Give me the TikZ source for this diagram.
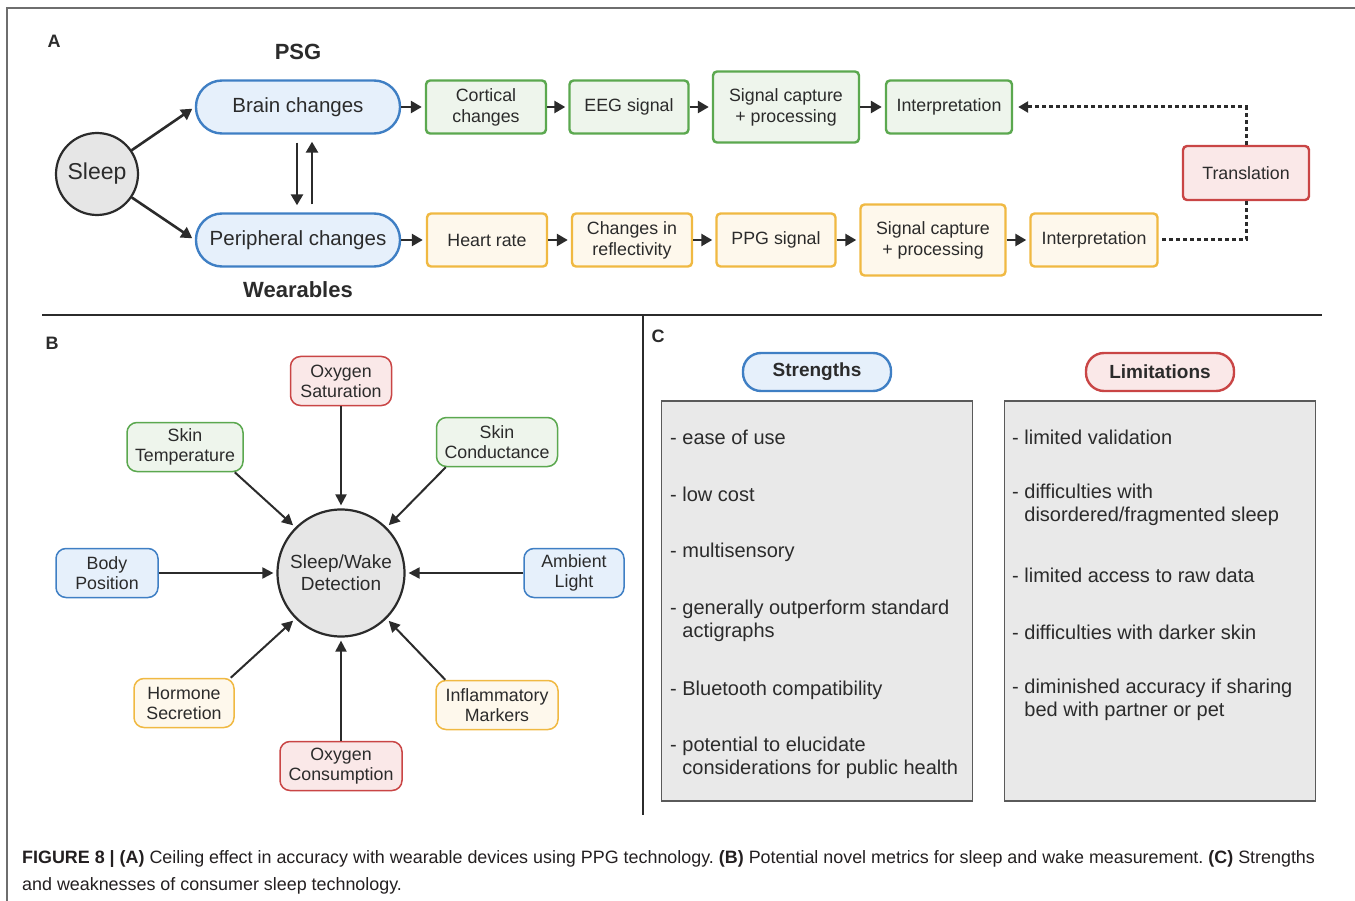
\documentclass[tikz,border=0pt]{standalone}
\usepackage{fontspec}
\setmainfont{Liberation Sans}
\usetikzlibrary{arrows.meta}
\frenchspacing

\definecolor{ink}{HTML}{2B2B2B}
\definecolor{captink}{HTML}{231F20}
\definecolor{framec}{HTML}{6E6E6E}
\definecolor{bluedraw}{HTML}{3F7FC4}
\definecolor{bluefill}{HTML}{E6F0FB}
\definecolor{grndraw}{HTML}{5BA84F}
\definecolor{grnfill}{HTML}{EEF5EC}
\definecolor{yeldraw}{HTML}{F0B942}
\definecolor{yelfill}{HTML}{FEF8EC}
\definecolor{reddraw}{HTML}{C94545}
\definecolor{redfill}{HTML}{FAE8E8}
\definecolor{greyfill}{HTML}{E6E6E6}
\definecolor{boxfill}{HTML}{E9E9E9}
\definecolor{boxdraw}{HTML}{5A5A5A}

\newcommand\fsz[2]{\fontsize{#1}{#2}\selectfont}

\begin{document}
\begin{tikzpicture}[x=1pt,y=-1pt,
  every node/.style={text=ink},
  lbl/.style={font=\fsz{18}{20}\bfseries},
  head/.style={font=\fsz{22}{26}\bfseries},
  pill/.style={draw=bluedraw,fill=bluefill,line width=2.4pt,rounded corners=26pt,
    minimum width=204pt,minimum height=53pt,font=\fsz{20.5}{24}},
  boxA/.style={rounded corners=4pt,line width=2.4pt,minimum height=53pt,align=center,
    inner sep=2pt,font=\fsz{17.8}{21}},
  grn/.style={boxA,draw=grndraw,fill=grnfill},
  yel/.style={boxA,draw=yeldraw,fill=yelfill},
  metric/.style={rounded corners=10pt,line width=1.5pt,minimum height=49pt,align=center,
    inner sep=1pt,font=\fsz{17.8}{20}},
  arr/.style={-{Triangle[length=11pt,width=12pt]},line width=2.6pt,draw=ink,shorten >=3pt},
  barr/.style={-{Triangle[length=11pt,width=11pt]},line width=2pt,draw=ink,shorten >=3pt},
  dotline/.style={draw=ink,line width=3pt,dash pattern=on 4pt off 3pt},
  sep/.style={draw=ink,line width=1.6pt},
  cpill/.style={line width=2.4pt,rounded corners=18pt,minimum width=148pt,minimum height=38pt,
    font=\fsz{19}{22}\bfseries},
  listbox/.style={draw=boxdraw,fill=boxfill,line width=1.6pt,minimum width=311pt,minimum height=400pt},
  item/.style={anchor=west,align=left,inner sep=0pt,font=\fsz{20}{23}},
  capt/.style={anchor=base west,inner sep=0pt,text=captink,font=\fsz{17.9}{20}}]
  \useasboundingbox (0,0) rectangle (1355,901);
  \draw[draw=framec,line width=1.2pt] (7,901) -- (7,8) -- (1355,8);

  \node[lbl] (labA) at (54,41) {A};
  \node[head] (psg) at (298,52) {PSG};
  \node[head] (wear) at (298,290) {Wearables};
  \node[circle,draw=ink,fill=greyfill,line width=2.2pt,minimum size=82pt,inner sep=0pt,
    font=\fsz{23}{26}] (sleep) at (97,174) {Sleep};
  \node[pill] (brain) at (298,107) {Brain changes};
  \node[pill] (periph) at (298,240) {Peripheral changes};
  \node[grn,minimum width=120pt] (cortical) at (486,107) {Cortical\\changes};
  \node[grn,minimum width=119pt] (eeg) at (629,107) {EEG signal};
  \node[grn,minimum width=146pt,minimum height=71pt] (capA) at (786,107) {Signal capture\\+ processing};
  \node[grn,minimum width=126pt] (interpA) at (949,107) {Interpretation};
  \node[yel,minimum width=120pt] (heart) at (487,240) {Heart rate};
  \node[yel,minimum width=120pt] (reflect) at (632,240) {Changes in\\reflectivity};
  \node[yel,minimum width=119pt] (ppg) at (776,240) {PPG signal};
  \node[yel,minimum width=145pt,minimum height=71pt] (capW) at (933,240) {Signal capture\\+ processing};
  \node[yel,minimum width=127pt] (interpW) at (1094,240) {Interpretation};
  \node[boxA,draw=reddraw,fill=redfill,minimum width=126pt,minimum height=54pt] (transl) at (1246,173) {Translation};

  \draw[arr] (sleep) -- (brain.west);
  \draw[arr] (sleep) -- (periph.west);
  \draw[arr,shorten <=8pt,shorten >=7pt] ([xshift=-1pt]brain.south) -- ([xshift=-1pt]periph.north);
  \draw[arr,shorten <=8pt,shorten >=7pt] ([xshift=14pt]periph.north) -- ([xshift=14pt]brain.south);
  \draw[arr] (brain) -- (cortical);
  \draw[arr] (cortical) -- (eeg);
  \draw[arr] (eeg) -- (capA);
  \draw[arr] (capA) -- (interpA);
  \draw[arr] (periph) -- (heart);
  \draw[arr] (heart) -- (reflect);
  \draw[arr] (reflect) -- (ppg);
  \draw[arr] (ppg) -- (capW);
  \draw[arr] (capW) -- (interpW);
  \draw[dotline,-{Triangle[length=10pt,width=11pt]},shorten >=5pt] (transl.north) |- (interpA.east);
  \draw[dotline,shorten >=3pt] (transl.south) |- (interpW.east);

  \draw[sep] (42,315) -- (1322,315);
  \draw[sep] (643,315) -- (643,815);

  \node[lbl] (labB) at (52,343) {B};
  \node[circle,draw=ink,fill=greyfill,line width=2.2pt,minimum size=127pt,inner sep=0pt,align=center,
    font=\fsz{19}{22}] (detect) at (341,573) {Sleep/Wake\\Detection};
  \node[metric,draw=reddraw,fill=redfill,minimum width=101pt] (oxsat) at (341,381) {Oxygen\\Saturation};
  \node[metric,draw=grndraw,fill=grnfill,minimum width=116pt] (skintemp) at (185,447) {Skin\\Temperature};
  \node[metric,draw=grndraw,fill=grnfill,minimum width=121pt] (skincond) at (497,442) {Skin\\Conductance};
  \node[metric,draw=bluedraw,fill=bluefill,minimum width=102pt] (bodypos) at (107,573) {Body\\Position};
  \node[metric,draw=bluedraw,fill=bluefill,minimum width=100pt] (amblight) at (574,573) {Ambient\\Light};
  \node[metric,draw=yeldraw,fill=yelfill,minimum width=100pt] (hormone) at (184,703) {Hormone\\Secretion};
  \node[metric,draw=yeldraw,fill=yelfill,minimum width=122pt] (inflam) at (497,705) {Inflammatory\\Markers};
  \node[metric,draw=reddraw,fill=redfill,minimum width=122pt] (oxcons) at (341,766) {Oxygen\\Consumption};

  \draw[barr] (oxsat) -- (detect);
  \draw[barr] ([xshift=-9pt]skintemp.south east) -- (detect.135);
  \draw[barr] ([xshift=10pt]skincond.south west) -- (detect.45);
  \draw[barr] (bodypos) -- (detect);
  \draw[barr] (amblight) -- (detect);
  \draw[barr] ([xshift=-4pt]hormone.north east) -- (detect.225);
  \draw[barr] ([xshift=10pt]inflam.north west) -- (detect.-45);
  \draw[barr] (oxcons) -- (detect);

  \node[lbl] (labC) at (658,336) {C};
  \node[cpill,draw=bluedraw,fill=bluefill] (strengths) at (817,372) {Strengths};
  \node[cpill,draw=reddraw,fill=redfill] (limits) at (1160,372) {Limitations};
  \node[listbox] (sbox) at (817,601) {};
  \node[listbox] (lbox) at (1160,601) {};

  \node[item] (s1) at (670,437) {- ease of use};
  \node[item] (s2) at (670,494) {- low cost};
  \node[item] (s3) at (670,552) {- multisensory};
  \node[item] (s4) at (670,621) {- generally outperform standard\\\phantom{- }actigraphs};
  \node[item] (s5) at (670,690) {- Bluetooth compatibility};
  \node[item] (s6) at (670,758) {- potential to elucidate\\\phantom{- }considerations for public health};
  \node[item] (l1) at (1012,437) {- limited validation};
  \node[item] (l2) at (1012,505) {- difficulties with\\\phantom{- }disordered/fragmented sleep};
  \node[item] (l3) at (1012,575) {- limited access to raw data};
  \node[item] (l4) at (1012,632) {- difficulties with darker skin};
  \node[item] (l5) at (1012,700) {- diminished accuracy if sharing\\\phantom{- }bed with partner or pet};

  \node[capt] (cap1) at (22,863) {\textbf{FIGURE 8 | (A)} Ceiling effect in accuracy with wearable devices using PPG technology. \textbf{(B)} Potential novel metrics for sleep and wake measurement. \textbf{(C)} Strengths};
  \node[capt] (cap2) at (22,890) {and weaknesses of consumer sleep technology.};
\end{tikzpicture}
\end{document}
